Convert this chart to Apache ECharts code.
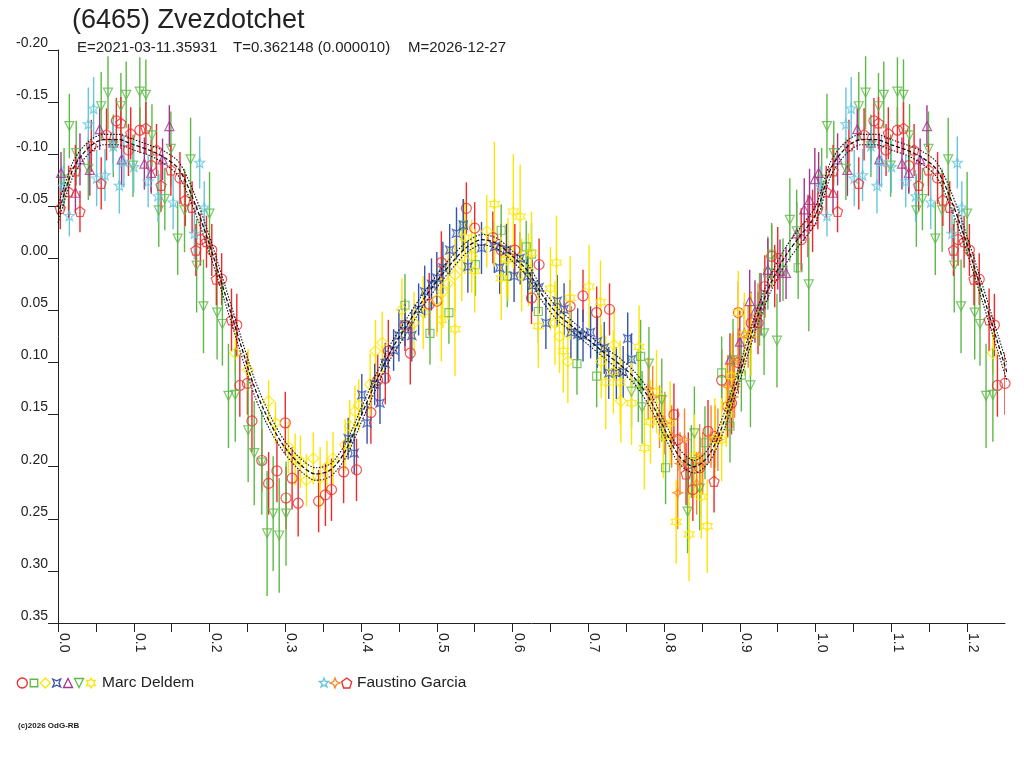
<!DOCTYPE html>
<html lang="en">
<head>
<meta charset="UTF-8">
<title>(6465) Zvezdotchet</title>
<script src="https://cdn.jsdelivr.net/npm/echarts@6/dist/echarts.min.js"></script>
<style>
    html, body { margin: 0; padding: 0; background: #fff; }
    #main { width: 1024px; height: 768px; }
</style>
</head>
<body>
<div id="main"></div>
<script>
// each point: [phase, reduced magnitude, error]
// Marc Deldem
var redCircle = [[0.077,-0.132,0.022],[0.093,-0.104,0.025],[0.108,-0.123,0.022],[0.123,-0.089,0.025],[0.161,-0.077,0.025],[0.188,-0.018,0.025],[0.203,-0.008,0.025],[0.216,0.020,0.025],[0.236,0.064,0.03],[0.240,0.122,0.03],[0.250,0.120,0.03],[0.256,0.156,0.03],[0.269,0.194,0.03],[0.278,0.216,0.03],[0.289,0.204,0.03],[0.300,0.158,0.03],[0.301,0.230,0.03],[0.309,0.211,0.03],[0.317,0.235,0.032],[0.344,0.233,0.03],[0.353,0.227,0.03],[0.361,0.222,0.03],[0.377,0.205,0.03],[0.394,0.203,0.03],[0.413,0.148,0.03],[0.422,0.117,0.025],[0.432,0.115,0.025],[0.436,0.089,0.03],[0.458,0.064,0.025],[0.465,0.091,0.03],[0.490,0.044,0.03],[0.500,0.041,0.03],[0.506,0.004,0.03],[0.539,-0.048,0.025],[0.550,-0.029,0.025],[0.574,-0.020,0.025],[0.585,-0.008,0.025],[0.603,-0.008,0.025],[0.625,0.038,0.025],[0.635,0.006,0.025],[0.676,0.046,0.025],[0.693,0.036,0.025],[0.711,0.052,0.025],[0.728,0.049,0.025],[0.813,0.150,0.03],[0.818,0.174,0.03],[0.832,0.197,0.03],[0.838,0.222,0.03],[0.847,0.201,0.03],[0.858,0.166,0.03],[0.867,0.171,0.03],[0.876,0.117,0.03],[0.884,0.142,0.03],[0.889,0.139,0.03],[0.898,0.052,0.03],[0.898,0.100,0.03],[0.915,0.062,0.03],[0.924,0.062,0.03],[0.933,0.027,0.03],[0.942,-0.002,0.03],[0.946,0.017,0.03],[0.950,0.000,0.03],[0.981,-0.018,0.03],[0.990,-0.031,0.03],[0.996,-0.036,0.03]];
var greenSquare = [[0.008,-0.076,0.03],[0.458,0.045,0.03],[0.491,0.072,0.03],[0.516,0.052,0.03],[0.535,-0.032,0.025],[0.551,0.006,0.03],[0.585,-0.027,0.025],[0.593,0.017,0.03],[0.618,-0.011,0.025],[0.625,-0.004,0.03],[0.634,0.051,0.03],[0.685,0.101,0.03],[0.711,0.113,0.03],[0.769,0.094,0.035],[0.802,0.201,0.035],[0.836,0.195,0.035],[0.854,0.177,0.035],[0.876,0.110,0.035],[0.887,0.161,0.035],[0.902,0.112,0.035],[0.926,0.049,0.035],[0.937,0.014,0.035],[0.942,-0.004,0.03],[0.957,0.011,0.03],[0.977,0.009,0.03]];
var yellowDiamond = [[0.234,0.091,0.02],[0.251,0.107,0.02],[0.278,0.137,0.02],[0.287,0.158,0.02],[0.304,0.181,0.025],[0.313,0.193,0.025],[0.320,0.195,0.025],[0.328,0.213,0.025],[0.337,0.192,0.025],[0.346,0.211,0.03],[0.355,0.200,0.025],[0.363,0.192,0.025],[0.379,0.179,0.025],[0.385,0.161,0.025],[0.392,0.147,0.025],[0.397,0.141,0.025],[0.412,0.121,0.03],[0.419,0.089,0.03],[0.428,0.081,0.03],[0.454,0.049,0.03],[0.470,0.062,0.03],[0.482,0.052,0.035],[0.500,0.040,0.035],[0.508,0.032,0.035],[0.515,0.024,0.035],[0.524,0.016,0.035],[0.533,0.006,0.035],[0.546,-0.002,0.035],[0.566,-0.026,0.035],[0.592,0.001,0.035],[0.612,0.016,0.035],[0.621,0.011,0.035],[0.656,0.062,0.04],[0.662,0.075,0.035],[0.673,0.099,0.04],[0.717,0.099,0.035],[0.734,0.083,0.035],[0.743,0.137,0.04]];
var blueBowtie = [[0.383,0.173,0.02],[0.391,0.187,0.02],[0.401,0.131,0.02],[0.408,0.158,0.02],[0.418,0.121,0.02],[0.425,0.139,0.02],[0.432,0.101,0.02],[0.443,0.088,0.02],[0.450,0.074,0.025],[0.458,0.064,0.02],[0.467,0.074,0.025],[0.476,0.049,0.025],[0.484,0.032,0.025],[0.493,0.025,0.025],[0.500,0.019,0.025],[0.508,0.009,0.025],[0.517,-0.008,0.025],[0.526,-0.024,0.025],[0.535,-0.032,0.025],[0.541,0.008,0.025],[0.559,-0.010,0.025],[0.576,-0.011,0.025],[0.583,0.009,0.025],[0.592,-0.008,0.025],[0.602,0.017,0.025],[0.610,0.000,0.025],[0.620,0.017,0.025],[0.626,0.026,0.025],[0.635,0.028,0.025],[0.644,0.062,0.025],[0.659,0.041,0.025],[0.668,0.049,0.025],[0.677,0.071,0.025],[0.686,0.073,0.025],[0.693,0.074,0.025],[0.703,0.071,0.025],[0.712,0.080,0.025],[0.721,0.086,0.025],[0.727,0.110,0.025],[0.737,0.110,0.025],[0.746,0.109,0.025],[0.752,0.077,0.025],[0.757,0.097,0.025]];
var purpleTriangle = [[0.004,-0.082,0.02],[0.023,-0.063,0.02],[0.029,-0.095,0.025],[0.042,-0.085,0.025],[0.055,-0.124,0.02],[0.073,-0.111,0.02],[0.084,-0.095,0.025],[0.114,-0.091,0.025],[0.123,-0.082,0.02],[0.138,-0.095,0.02],[0.147,-0.127,0.02],[0.887,0.097,0.025],[0.900,0.080,0.03],[0.906,0.072,0.03],[0.913,0.041,0.03],[0.920,0.051,0.03],[0.928,0.044,0.03],[0.937,0.011,0.03],[0.953,0.012,0.03],[0.961,0.014,0.025],[0.975,-0.024,0.03],[0.985,-0.047,0.03],[0.992,-0.056,0.03],[0.999,-0.076,0.03]];
var greenTriangle = [[0.015,-0.127,0.031],[0.024,-0.101,0.031],[0.040,-0.086,0.03],[0.057,-0.146,0.033],[0.066,-0.159,0.035],[0.073,-0.108,0.03],[0.083,-0.146,0.032],[0.090,-0.157,0.032],[0.099,-0.089,0.03],[0.108,-0.160,0.033],[0.116,-0.157,0.034],[0.124,-0.118,0.03],[0.133,-0.046,0.035],[0.141,-0.057,0.03],[0.149,-0.105,0.036],[0.158,-0.019,0.035],[0.167,-0.046,0.04],[0.175,-0.095,0.04],[0.183,0.007,0.045],[0.192,0.046,0.045],[0.200,-0.043,0.04],[0.210,0.052,0.045],[0.217,0.063,0.04],[0.225,0.132,0.05],[0.234,0.131,0.045],[0.251,0.165,0.05],[0.259,0.187,0.05],[0.269,0.196,0.05],[0.276,0.264,0.06],[0.284,0.245,0.055],[0.292,0.266,0.055],[0.301,0.245,0.05],[0.757,0.128,0.035],[0.766,0.122,0.035],[0.771,0.143,0.035],[0.780,0.101,0.035],[0.797,0.136,0.04],[0.831,0.243,0.04],[0.840,0.168,0.045],[0.847,0.221,0.04],[0.891,0.098,0.04],[0.914,0.122,0.04],[0.932,0.072,0.04],[0.949,0.079,0.045],[0.966,-0.037,0.04],[0.975,-0.026,0.04],[0.991,0.025,0.045]];
var yellowStar = [[0.506,0.059,0.04],[0.524,0.068,0.045],[0.537,-0.020,0.035],[0.550,0.012,0.04],[0.576,-0.052,0.06],[0.585,0.019,0.04],[0.594,0.001,0.04],[0.601,-0.045,0.055],[0.610,-0.040,0.05],[0.625,-0.005,0.04],[0.634,0.065,0.04],[0.650,0.029,0.04],[0.658,0.004,0.045],[0.667,0.089,0.04],[0.676,0.038,0.04],[0.701,0.027,0.04],[0.716,0.042,0.04],[0.723,0.119,0.045],[0.733,0.109,0.04],[0.742,0.119,0.04],[0.757,0.139,0.04],[0.767,0.085,0.04],[0.774,0.182,0.04],[0.782,0.157,0.04],[0.790,0.128,0.04],[0.799,0.171,0.04],[0.808,0.158,0.04],[0.816,0.253,0.04],[0.833,0.265,0.045],[0.840,0.190,0.04],[0.849,0.229,0.04],[0.857,0.257,0.045],[0.867,0.174,0.04],[0.876,0.174,0.04],[0.882,0.141,0.04],[0.889,0.113,0.04],[0.898,0.052,0.04],[0.906,0.073,0.04],[0.915,0.073,0.04]];
// Faustino Garcia
var cyanStar = [[0.007,-0.069,0.02],[0.015,-0.041,0.02],[0.040,-0.129,0.035],[0.047,-0.144,0.03],[0.051,-0.077,0.027],[0.062,-0.080,0.025],[0.073,-0.108,0.025],[0.081,-0.070,0.027],[0.087,-0.093,0.025],[0.100,-0.088,0.025],[0.119,-0.074,0.025],[0.132,-0.060,0.025],[0.152,-0.054,0.026],[0.180,-0.024,0.025],[0.187,-0.092,0.025],[0.193,-0.049,0.025]];
var orangeStar = [[0.779,0.125,0.03],[0.785,0.133,0.03],[0.794,0.152,0.03],[0.801,0.158,0.03],[0.810,0.171,0.03],[0.818,0.225,0.035],[0.821,0.197,0.03],[0.827,0.174,0.03],[0.843,0.216,0.03],[0.847,0.189,0.03],[0.851,0.197,0.03],[0.862,0.171,0.03],[0.871,0.174,0.03],[0.884,0.123,0.03],[0.891,0.133,0.03],[0.891,0.101,0.03],[0.893,0.123,0.03],[0.898,0.097,0.03],[0.911,0.075,0.03],[0.924,0.054,0.03]];
var redPentagon = [[0.003,-0.048,0.02],[0.014,-0.064,0.025],[0.023,-0.084,0.025],[0.029,-0.045,0.02],[0.044,-0.108,0.025],[0.057,-0.072,0.025],[0.064,-0.119,0.025],[0.083,-0.130,0.025],[0.096,-0.120,0.025],[0.116,-0.125,0.025],[0.130,-0.104,0.025],[0.136,-0.070,0.025],[0.149,-0.085,0.025],[0.168,-0.056,0.025],[0.177,-0.049,0.025],[0.182,-0.008,0.025],[0.196,-0.016,0.025],[0.209,0.020,0.025],[0.229,0.059,0.03],[0.829,0.207,0.03],[0.866,0.214,0.03]];

// fitted curve and its envelope
var fitPhase = [0.00,0.02,0.04,0.06,0.08,0.10,0.12,0.14,0.16,0.18,0.20,0.22,0.24,0.26,0.28,0.30,0.32,0.34,0.36,0.38,0.40,0.42,0.44,0.46,0.48,0.50,0.52,0.54,0.56,0.58,0.60,0.62,0.64,0.66,0.68,0.70,0.72,0.74,0.76,0.78,0.80,0.82,0.84,0.86,0.88,0.90,0.92,0.94,0.96,0.98,1.00];
var fitMag = [-0.042,-0.086,-0.106,-0.114,-0.114,-0.109,-0.104,-0.097,-0.085,-0.054,-0.013,0.033,0.080,0.125,0.158,0.182,0.198,0.207,0.203,0.184,0.151,0.118,0.088,0.065,0.042,0.022,0.004,-0.011,-0.018,-0.014,-0.002,0.012,0.036,0.054,0.066,0.078,0.090,0.101,0.114,0.134,0.163,0.190,0.200,0.188,0.155,0.110,0.063,0.025,-0.002,-0.022,-0.042];
var fitSpread = [0.008,0.007,0.006,0.005,0.005,0.005,0.005,0.006,0.007,0.008,0.008,0.008,0.008,0.008,0.007,0.006,0.006,0.006,0.006,0.007,0.007,0.007,0.007,0.007,0.006,0.006,0.006,0.005,0.005,0.005,0.005,0.006,0.006,0.006,0.005,0.005,0.005,0.006,0.006,0.007,0.007,0.007,0.006,0.007,0.008,0.008,0.008,0.008,0.008,0.008,0.008];

var FONT = '"Liberation Sans", Arial, Helvetica, sans-serif';
var TXT = '#222';

// marker outlines in a 10x10 box
var SHAPES = {
    square: [[0,0],[10,0],[10,10],[0,10]],
    diamond: [[5,0],[10,5],[5,10],[0,5]],
    bowtie: [[0,0],[5,2.2],[10,0],[7.8,5],[10,10],[5,7.8],[0,10],[2.2,5]],
    triUp: [[5,0],[10,10],[0,10]],
    triDown: [[0,0],[10,0],[5,10]],
    hexStar: [[5,0],[6.45,2.49],[9.33,2.5],[7.9,5],[9.33,7.5],[6.45,7.51],[5,10],[3.55,7.51],[0.67,7.5],[2.1,5],[0.67,2.5],[3.55,2.49]],
    star5: [[5,0],[6.23,3.3],[9.76,3.45],[7,5.65],[7.94,9.05],[5,7.1],[2.06,9.05],[3,5.65],[0.24,3.45],[3.77,3.3]],
    star4: [[5,0],[6.4,3.6],[10,5],[6.4,6.4],[5,10],[3.6,6.4],[0,5],[3.6,3.6]],
    pentagon: [[5,0],[10,3.8],[8.1,10],[1.9,10],[0,3.8]]
};

function symbolPath(name) {
    return 'path://M' + SHAPES[name].map(function (p) { return p[0] + ',' + p[1]; }).join('L') + 'Z';
}

var groups = [
    {name: 'redCircle', data: redCircle, color: '#ee2a2a', shape: 'circle', size: 10},
    {name: 'greenSquare', data: greenSquare, color: '#5cb946', shape: 'square', size: 8},
    {name: 'yellowDiamond', data: yellowDiamond, color: '#fce600', shape: 'diamond', size: 11},
    {name: 'blueBowtie', data: blueBowtie, color: '#3552ae', shape: 'bowtie', size: 8},
    {name: 'purpleTriangle', data: purpleTriangle, color: '#a3338d', shape: 'triUp', size: 9},
    {name: 'greenTriangle', data: greenTriangle, color: '#5cb946', shape: 'triDown', size: 9},
    {name: 'yellowStar', data: yellowStar, color: '#fce600', shape: 'hexStar', size: 10},
    {name: 'cyanStar', data: cyanStar, color: '#66c6dc', shape: 'star5', size: 10},
    {name: 'orangeStar', data: orangeStar, color: '#f5862a', shape: 'star4', size: 10},
    {name: 'redPentagon', data: redPentagon, color: '#ee2a2a', shape: 'pentagon', size: 10}
];

// points of the first quarter of the cycle are plotted again after phase 1
function wrapPhase(list) {
    var out = list.slice();
    list.forEach(function (p) {
        if (p[0] + 1 <= 1.25) out.push([p[0] + 1, p[1], p[2]]);
    });
    return out;
}

function fitLine(offsetSign) {
    var pts = [];
    fitPhase.forEach(function (ph, i) {
        pts.push([ph, fitMag[i] + offsetSign * fitSpread[i]]);
    });
    fitPhase.forEach(function (ph, i) {
        if (ph > 0 && ph <= 0.28) pts.push([ph + 1, fitMag[i] + offsetSign * fitSpread[i]]);
    });
    return pts;
}

var series = [];
groups.forEach(function (g) {
    var pts = wrapPhase(g.data);
    series.push({
        name: g.name + 'Err',
        type: 'custom',
        clip: true,
        z: 2,
        silent: true,
        data: pts,
        encode: {x: 0, y: 1},
        renderItem: function (params, api) {
            var x = api.value(0), y = api.value(1), e = api.value(2);
            var a = api.coord([x, y - e]);
            var b = api.coord([x, y + e]);
            return {
                type: 'line',
                shape: {x1: a[0], y1: a[1], x2: b[0], y2: b[1]},
                style: {stroke: g.color, lineWidth: 1.4}
            };
        }
    });
    series.push({
        name: g.name,
        type: 'scatter',
        z: 3,
        silent: true,
        data: pts.map(function (p) { return [p[0], p[1]]; }),
        symbol: g.shape === 'circle' ? 'circle' : symbolPath(g.shape),
        symbolSize: g.size,
        itemStyle: {color: 'rgba(0,0,0,0)', borderColor: g.color, borderWidth: 1.2}
    });
});

[[0, [4, 2], 1.3], [-1, [1.5, 1.5], 1.1], [1, [1.5, 1.5], 1.1]].forEach(function (f) {
    series.push({
        type: 'line',
        z: 5,
        silent: true,
        data: fitLine(f[0]),
        showSymbol: false,
        smooth: 0.3,
        lineStyle: {color: '#111', width: f[2], type: f[1]}
    });
});

// header, footer and legend
var graphics = [
    {type: 'text', x: 72, y: 21, style: {text: '(6465) Zvezdotchet', font: '27px ' + FONT, fill: TXT, verticalAlign: 'middle'}},
    {type: 'text', x: 77, y: 48, style: {text: 'E=2021-03-11.35931', font: '15px ' + FONT, fill: TXT, verticalAlign: 'middle'}},
    {type: 'text', x: 233, y: 48, style: {text: 'T=0.362148 (0.000010)', font: '15px ' + FONT, fill: TXT, verticalAlign: 'middle'}},
    {type: 'text', x: 408, y: 48, style: {text: 'M=2026-12-27', font: '15px ' + FONT, fill: TXT, verticalAlign: 'middle'}},
    {type: 'text', x: 18, y: 726, style: {text: '(c)2026 OdG-RB', font: 'bold 8px ' + FONT, fill: TXT, verticalAlign: 'middle'}}
];
var legendRows = [
    {items: [[0, 22.3, 10], [1, 34, 7.5], [2, 45.3, 10], [3, 56.7, 8], [4, 68, 9], [5, 79, 9], [6, 91, 10]], label: 'Marc Deldem', tx: 102},
    {items: [[7, 324, 10], [8, 335, 10], [9, 346.7, 10]], label: 'Faustino Garcia', tx: 357}
];
var LY = 683;
legendRows.forEach(function (row) {
    row.items.forEach(function (it) {
        var g = groups[it[0]], s = it[2];
        if (g.shape === 'circle') {
            graphics.push({type: 'circle', shape: {cx: it[1], cy: LY, r: s / 2},
                style: {fill: 'none', stroke: g.color, lineWidth: 1.3}});
        } else {
            graphics.push({type: 'polygon',
                shape: {points: SHAPES[g.shape].map(function (p) {
                    return [it[1] - s / 2 + p[0] * s / 10, LY - s / 2 + p[1] * s / 10];
                })},
                style: {fill: 'none', stroke: g.color, lineWidth: 1.3}});
        }
    });
    graphics.push({type: 'text', x: row.tx, y: LY,
        style: {text: row.label, font: '15.5px ' + FONT, fill: TXT, verticalAlign: 'middle'}});
});

var myChart = echarts.init(document.getElementById('main'), null, {renderer: 'canvas'});
myChart.setOption({
    animation: false,
    backgroundColor: '#fff',
    grid: {left: 58, right: 19, top: 50, bottom: 145, containLabel: false},
    xAxis: {
        type: 'value',
        min: 0,
        max: 1.25,
        interval: 0.05,
        axisLine: {show: true, onZero: false, lineStyle: {color: TXT, width: 1}},
        axisTick: {show: true, length: 9, lineStyle: {color: TXT}},
        splitLine: {show: false},
        axisLabel: {
            rotate: -90,
            margin: 10,
            fontSize: 14,
            lineHeight: 12,
            fontFamily: FONT,
            color: TXT,
            hideOverlap: false,
            showMaxLabel: false,
            // the blank second line moves the rotated label to the right of its tick
            formatter: function (v) {
                var k = Math.round(v * 100);
                return k % 10 === 0 ? (k / 100).toFixed(1) + '\n ' : '';
            }
        }
    },
    yAxis: {
        type: 'value',
        inverse: true,
        min: -0.2,
        max: 0.35,
        interval: 0.05,
        axisLine: {show: true, onZero: false, lineStyle: {color: TXT, width: 1}},
        axisTick: {show: true, length: 10, lineStyle: {color: TXT}},
        splitLine: {show: false},
        axisLabel: {
            margin: 10,
            fontSize: 14,
            fontFamily: FONT,
            color: TXT,
            verticalAlign: 'bottom',
            formatter: function (v) {
                return Math.abs(v) < 1e-9 ? '0.00' : v.toFixed(2);
            }
        }
    },
    graphic: graphics,
    series: series
});
</script>
</body>
</html>
